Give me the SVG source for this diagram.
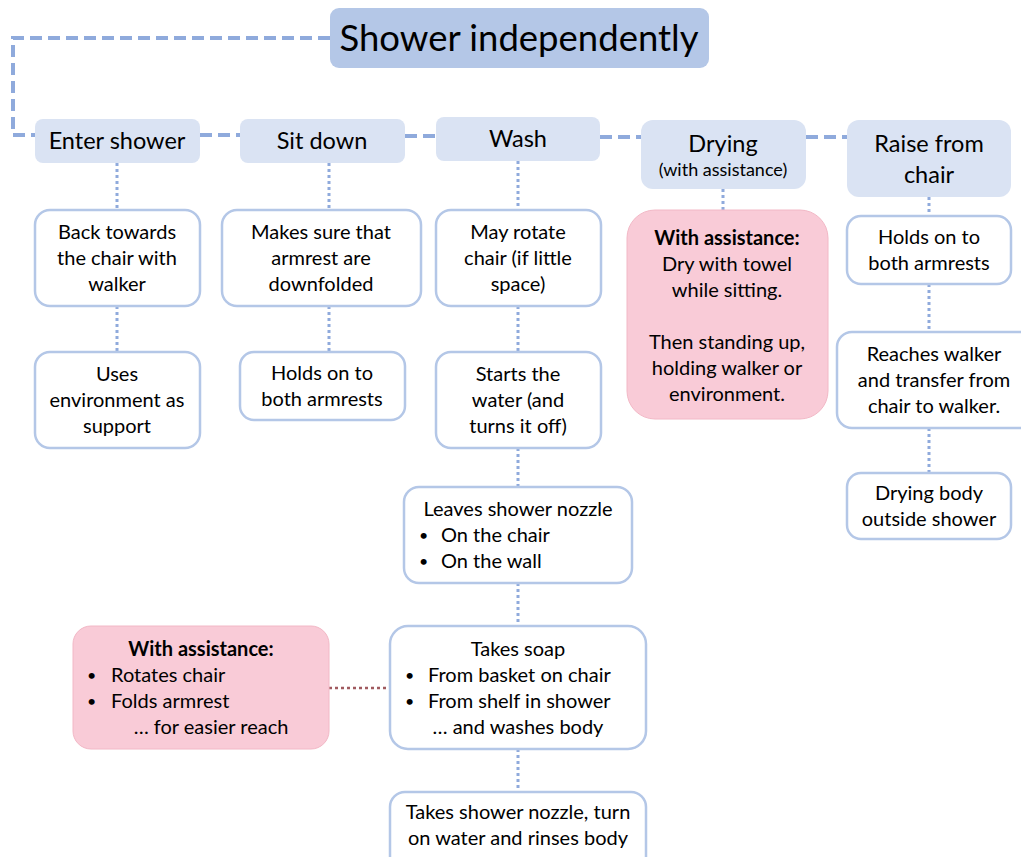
<svg xmlns="http://www.w3.org/2000/svg" width="1021" height="857" viewBox="0 0 1021 857">
<style>
text{font-family:Lato,"Open Sans","Liberation Sans",sans-serif;fill:#000;text-anchor:middle}
.t{font-size:20px}
.h{font-size:23.5px}
.b{font-weight:bold}
.s{font-size:18px}
.l{text-anchor:start}
.bu{font-size:16px}
.hd{fill:#dae3f3;stroke:none}
.nd{fill:#fff;stroke:#b4c7e7;stroke-width:2.5}
.pk{fill:#f9cbd7;stroke:#f2b8c6;stroke-width:1}
.dash{fill:none;stroke:#8faadc;stroke-width:4;stroke-dasharray:12 6}
.dot{fill:none;stroke:#8faadc;stroke-width:3;stroke-dasharray:3 3}
.dotr{fill:none;stroke:#a05a5f;stroke-width:2.5;stroke-dasharray:3 3}
</style>
<g id="connectors">
<path class="dash" d="M330,38 H13 V135 H35"/>
<path class="dash" d="M200,135 H240"/>
<path class="dash" d="M405,136 H436"/>
<path class="dash" d="M600,137 H641"/>
<path class="dash" d="M806,137 H847"/>
<path class="dot" d="M117,163 V210 M117,306 V352"/>
<path class="dot" d="M329,163 V210 M329,306 V352"/>
<path class="dot" d="M518,161 V210 M518,306 V352 M518,448 V487 M518,583 V626 M518,749 V792"/>
<path class="dot" d="M723,189 V210"/>
<path class="dot" d="M929,197 V216 M929,284 V332 M929,428 V473"/>
<path class="dotr" d="M329,688 H390"/>
</g>
<g id="title"><rect x="330" y="8" width="379" height="60" rx="9" fill="#b4c7e7"/><text x="519" y="51" style="font-size:36.5px">Shower independently</text></g>
<g id="enter"><rect class="hd" x="35" y="119" width="165" height="44" rx="8"/><text class="h" x="117" y="149">Enter shower</text></g>
<g id="sit"><rect class="hd" x="240" y="119" width="165" height="44" rx="8"/><text class="h" x="322" y="149">Sit down</text></g>
<g id="wash"><rect class="hd" x="436" y="117" width="164" height="44" rx="8"/><text class="h" x="518" y="147">Wash</text></g>
<g id="drying"><rect class="hd" x="641" y="120" width="165" height="69" rx="12"/><text class="h" x="723" y="152">Drying</text><text class="s" x="723" y="176">(with assistance)</text></g>
<g id="raise"><rect class="hd" x="847" y="120" width="164" height="77" rx="12"/><text class="h" x="929" y="152">Raise from</text><text class="h" x="929" y="183">chair</text></g>
<g id="back"><rect class="nd" x="35" y="210" width="165" height="96" rx="15"/><text class="t" x="117" y="239">Back towards</text><text class="t" x="117" y="265">the chair with</text><text class="t" x="117" y="291">walker</text></g>
<g id="uses"><rect class="nd" x="35" y="352" width="165" height="96" rx="15"/><text class="t" x="117" y="381">Uses</text><text class="t" x="117" y="407">environment as</text><text class="t" x="117" y="433">support</text></g>
<g id="makes"><rect class="nd" x="222" y="210" width="199" height="96" rx="15"/><text class="t" x="321" y="239">Makes sure that</text><text class="t" x="321" y="265">armrest are</text><text class="t" x="321" y="291">downfolded</text></g>
<g id="holds1"><rect class="nd" x="240" y="352" width="165" height="68" rx="14"/><text class="t" x="322" y="380">Holds on to</text><text class="t" x="322" y="406">both armrests</text></g>
<g id="rotate"><rect class="nd" x="436" y="210" width="165" height="96" rx="15"/><text class="t" x="518" y="239">May rotate</text><text class="t" x="518" y="265">chair (if little</text><text class="t" x="518" y="291">space)</text></g>
<g id="starts"><rect class="nd" x="436" y="352" width="165" height="96" rx="15"/><text class="t" x="518" y="381">Starts the</text><text class="t" x="518" y="407">water (and</text><text class="t" x="518" y="433">turns it off)</text></g>
<g id="leaves"><rect class="nd" x="404" y="487" width="228" height="96" rx="15"/><text class="t" x="518" y="516">Leaves shower nozzle</text><text class="bu l" x="419" y="541">•</text><text class="t l" x="441" y="542">On the chair</text><text class="bu l" x="419" y="567">•</text><text class="t l" x="441" y="568">On the wall</text></g>
<g id="soap"><rect class="nd" x="390" y="626" width="256" height="123" rx="18"/><text class="t" x="518" y="656">Takes soap</text><text class="bu l" x="405" y="681">•</text><text class="t l" x="428" y="682">From basket on chair</text><text class="bu l" x="405" y="707">•</text><text class="t l" x="428" y="708">From shelf in shower</text><text class="t" x="518" y="734">… and washes body</text></g>
<g id="rinse"><rect class="nd" x="390" y="792" width="256" height="80" rx="15"/><text class="t" x="518" y="819">Takes shower nozzle, turn</text><text class="t" x="518" y="845">on water and rinses body</text></g>
<g id="assist1"><rect class="pk" x="73" y="626" width="256" height="123" rx="18"/><text class="t b" x="201" y="656">With assistance:</text><text class="bu l" x="87" y="681">•</text><text class="t l" x="111" y="682">Rotates chair</text><text class="bu l" x="87" y="707">•</text><text class="t l" x="111" y="708">Folds armrest</text><text class="t" x="211" y="734">… for easier reach</text></g>
<g id="assist2"><rect class="pk" x="627" y="210" width="201" height="209" rx="28"/><text class="t b" x="727" y="245">With assistance:</text><text class="t" x="727" y="271">Dry with towel</text><text class="t" x="727" y="297">while sitting.</text><text class="t" x="727" y="349">Then standing up,</text><text class="t" x="727" y="375">holding walker or</text><text class="t" x="727" y="401">environment.</text></g>
<g id="holds2"><rect class="nd" x="847" y="216" width="164" height="68" rx="14"/><text class="t" x="929" y="244">Holds on to</text><text class="t" x="929" y="270">both armrests</text></g>
<g id="reaches"><rect class="nd" x="837" y="332" width="200" height="96" rx="15"/><text class="t" x="934" y="361">Reaches walker</text><text class="t" x="934" y="387">and transfer from</text><text class="t" x="934" y="413">chair to walker.</text></g>
<g id="dryout"><rect class="nd" x="847" y="473" width="164" height="66" rx="14"/><text class="t" x="929" y="500">Drying body</text><text class="t" x="929" y="526">outside shower</text></g>
</svg>
